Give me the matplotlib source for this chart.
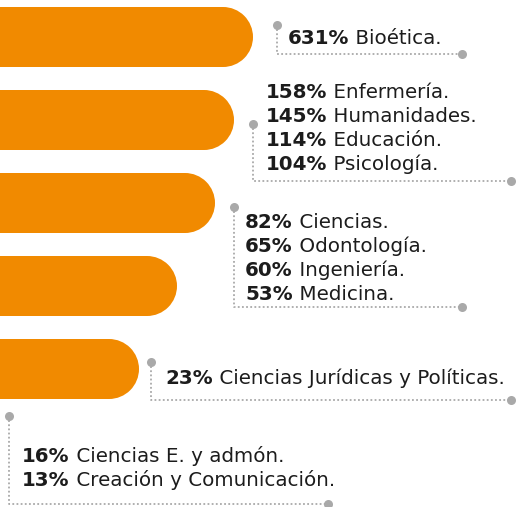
import matplotlib.pyplot as plt
from matplotlib.patches import Rectangle, Circle

# bar lengths (px units along the x scale), top to bottom
bar_ends = [253, 234, 215, 177, 139]

# label groups: percentages and names
group_pcts = [[631], [158, 145, 114, 104], [82, 65, 60, 53], [23], [16, 13]]
group_names = [
    ["Bioética."],
    ["Enfermería.", "Humanidades.", "Educación.", "Psicología."],
    ["Ciencias.", "Odontología.", "Ingeniería.", "Medicina."],
    ["Ciencias Jurídicas y Políticas."],
    ["Ciencias E. y admón.", "Creación y Comunicación."],
]

ORANGE = "#F18A00"
GRAY = "#A9A9A9"
TXT = "#1C1C1C"
FONT = "DejaVu Sans"
FS = 14.3

# leader layout: dot x, dot y, bottom y, end x, text x, first line y
leaders = [
    (277, 25, 54, 462, 288, 38),
    (253, 124, 181, 511, 266, 93),
    (234, 207, 307, 462, 245, 222),
    (151, 362, 400, 511, 165, 378),
    (9, 416, 504, 328, 22, 457),
]

fig = plt.figure(figsize=(5.22, 5.07), dpi=100)
ax = fig.add_axes([0, 0, 1, 1])
ax.set_xlim(0, 522)
ax.set_ylim(507, 0)
ax.axis("off")

bar_h = 60
r = bar_h / 2
for i, end in enumerate(bar_ends):
    yc = 37 + i * 83
    # flat bar plus a half-circle cap on the right
    ax.add_patch(Rectangle((-10, yc - r), end - r + 10, bar_h, fc=ORANGE, ec="none"))
    ax.add_patch(Circle((end - r, yc), r, fc=ORANGE, ec="none"))

for (dx, dy, by, ex, tx, ty), pcts, names in zip(leaders, group_pcts, group_names):
    ax.plot([dx, dx, ex], [dy, by, by], color=GRAY, lw=1.3,
            linestyle=(0, (1, 1.3)), solid_capstyle="butt")
    ax.plot([dx, ex], [dy, by], "o", color=GRAY, ms=6.5, mec="none")
    for k, (p, n) in enumerate(zip(pcts, names)):
        t = ax.text(tx, ty + k * 24, f"{p}%", fontsize=FS, fontweight="bold",
                    family=FONT, color=TXT, va="center", ha="left")
        ax.annotate(" " + n, xy=(1, 0), xycoords=t, va="bottom", ha="left",
                    fontsize=FS, family=FONT, color=TXT)

fig.savefig("out.png", dpi=100)
